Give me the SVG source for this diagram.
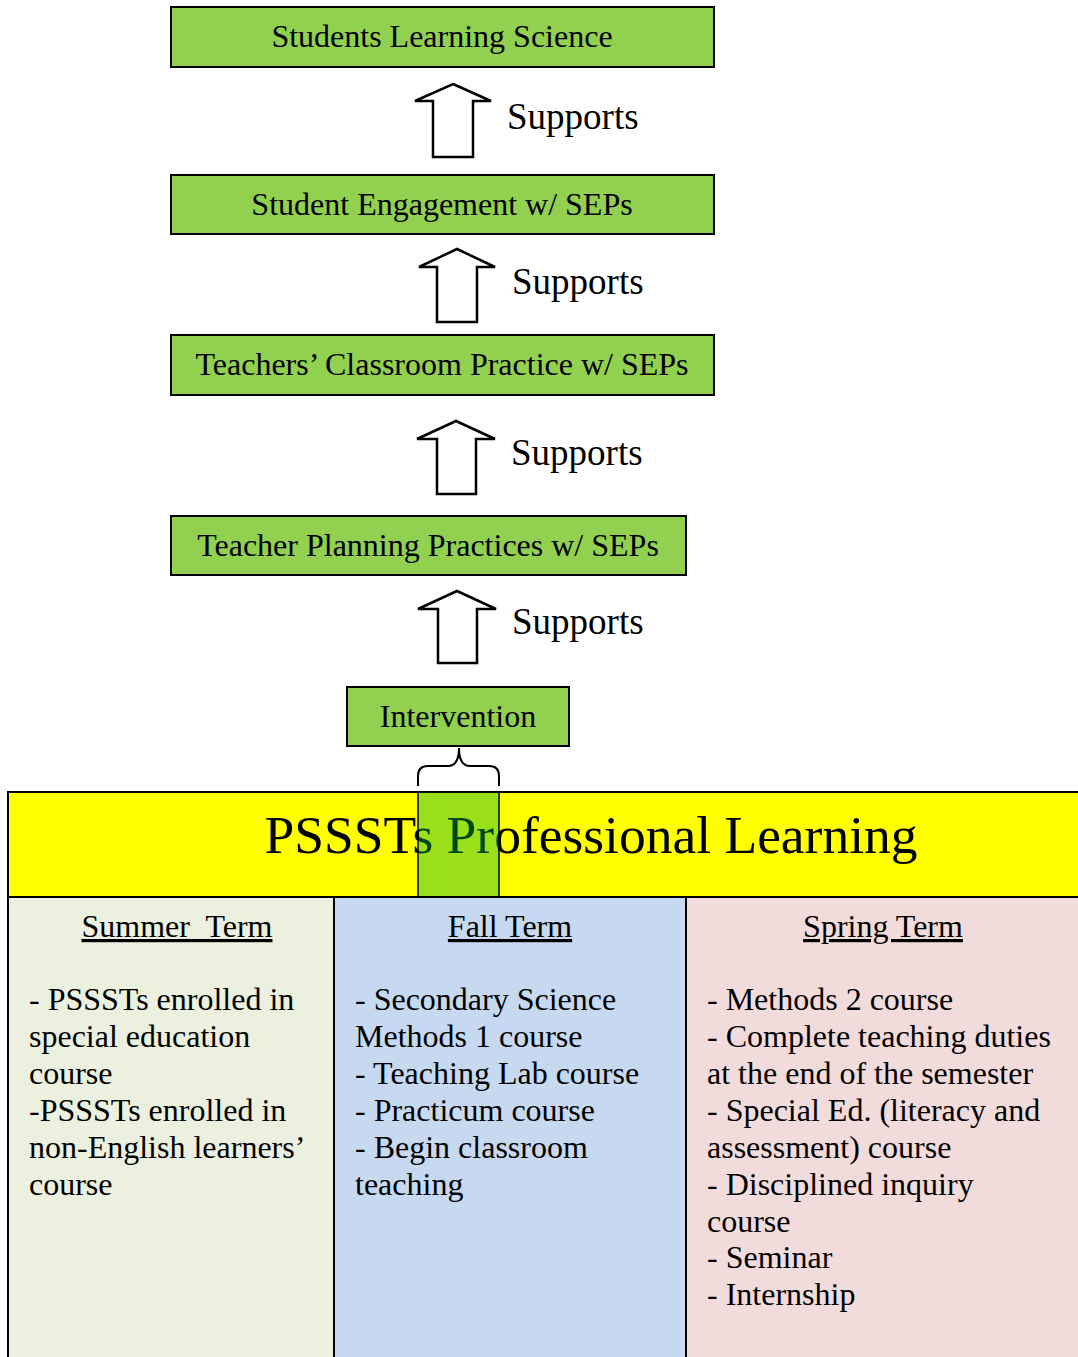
<svg xmlns="http://www.w3.org/2000/svg" width="1078" height="1357" viewBox="0 0 1078 1357">
<style>
.box{fill:#92d050;stroke:#000;stroke-width:2}
.bt{font-family:"Liberation Serif",serif;font-size:32px;fill:#000;text-anchor:middle}
.sup{font-family:"Liberation Serif",serif;font-size:37px;fill:#000}
.arr{fill:#fff;stroke:#000;stroke-width:2.5;stroke-linejoin:miter}
.tx{font-family:"Liberation Serif",serif;font-size:32px;fill:#000}
.hd{text-anchor:middle;text-decoration:underline;white-space:pre}
.cell{stroke:#000;stroke-width:2}
</style>
<rect width="1078" height="1357" fill="#fff"/>
<g id="node-students-learning"><rect class="box" x="171" y="7" width="543" height="60"/><text class="bt" x="442" y="47">Students Learning Science</text></g>
<g id="node-student-engagement"><rect class="box" x="171" y="175" width="543" height="59"/><text class="bt" x="442" y="215">Student Engagement w/ SEPs</text></g>
<g id="node-classroom-practice"><rect class="box" x="171" y="335" width="543" height="60"/><text class="bt" x="442" y="375">Teachers’ Classroom Practice w/ SEPs</text></g>
<g id="node-planning"><rect class="box" x="171" y="516" width="515" height="59"/><text class="bt" x="428" y="556">Teacher Planning Practices w/ SEPs</text></g>
<g id="node-intervention"><rect class="box" x="347" y="687" width="222" height="59"/><text class="bt" x="458" y="727">Intervention</text></g>
<g id="connectors">
<polygon class="arr" points="453,84 491,101 473,101 473,157 433,157 433,101 415,101"/>
<text class="sup" x="507" y="129">Supports</text>
<polygon class="arr" points="457,249 495,267 477,267 477,322 437,322 437,267 419,267"/>
<text class="sup" x="512" y="294">Supports</text>
<polygon class="arr" points="456,421 495,439 476,439 476,494 437,494 437,439 417,439"/>
<text class="sup" x="511" y="465">Supports</text>
<polygon class="arr" points="457,591 496,609 477,609 477,663 438,663 438,609 418,609"/>
<text class="sup" x="512" y="634">Supports</text>
<path d="M418,786 L418,776 Q418,766 428,766 L448,766 Q459,766 459,748 Q459,766 470,766 L489,766 Q499,766 499,776 L499,786" fill="none" stroke="#000" stroke-width="2"/>
</g>
<g id="node-professional-learning">
<rect x="8" y="792" width="1080" height="105" fill="#ffff00" stroke="#000" stroke-width="2"/>
<text x="591" y="853" font-family="'Liberation Serif',serif" font-size="53.5" text-anchor="middle" fill="#000">PSSSTs Professional Learning</text>
<rect x="418" y="792" width="81" height="105" fill="#00b142" fill-opacity="0.4" stroke="#000" stroke-width="1.5"/>
</g>
<g id="node-summer">
<rect class="cell" x="8" y="897" width="326" height="470" fill="#ebf1de"/>
<text class="tx hd" x="177" y="937" xml:space="preserve">Summer  Term</text>
<text class="tx" x="29" y="1010">- PSSSTs enrolled in</text>
<text class="tx" x="29" y="1047">special education</text>
<text class="tx" x="29" y="1084">course</text>
<text class="tx" x="29" y="1121">-PSSSTs enrolled in</text>
<text class="tx" x="29" y="1158">non-English learners’</text>
<text class="tx" x="29" y="1195">course</text>
</g>
<g id="node-fall">
<rect class="cell" x="334" y="897" width="352" height="470" fill="#c6d9f1"/>
<text class="tx hd" x="510" y="937">Fall Term</text>
<text class="tx" x="355" y="1010">- Secondary Science</text>
<text class="tx" x="355" y="1047">Methods 1 course</text>
<text class="tx" x="355" y="1084">- Teaching Lab course</text>
<text class="tx" x="355" y="1121">- Practicum course</text>
<text class="tx" x="355" y="1158">- Begin classroom</text>
<text class="tx" x="355" y="1195">teaching</text>
</g>
<g id="node-spring">
<rect class="cell" x="686" y="897" width="402" height="470" fill="#f2dcdb"/>
<text class="tx hd" x="883" y="937">Spring Term</text>
<text class="tx" x="707" y="1010">- Methods 2 course</text>
<text class="tx" x="707" y="1047">- Complete teaching duties</text>
<text class="tx" x="707" y="1084">at the end of the semester</text>
<text class="tx" x="707" y="1121">- Special Ed. (literacy and</text>
<text class="tx" x="707" y="1158">assessment) course</text>
<text class="tx" x="707" y="1195">- Disciplined inquiry</text>
<text class="tx" x="707" y="1232">course</text>
<text class="tx" x="707" y="1268">- Seminar</text>
<text class="tx" x="707" y="1305">- Internship</text>
</g>
</svg>
